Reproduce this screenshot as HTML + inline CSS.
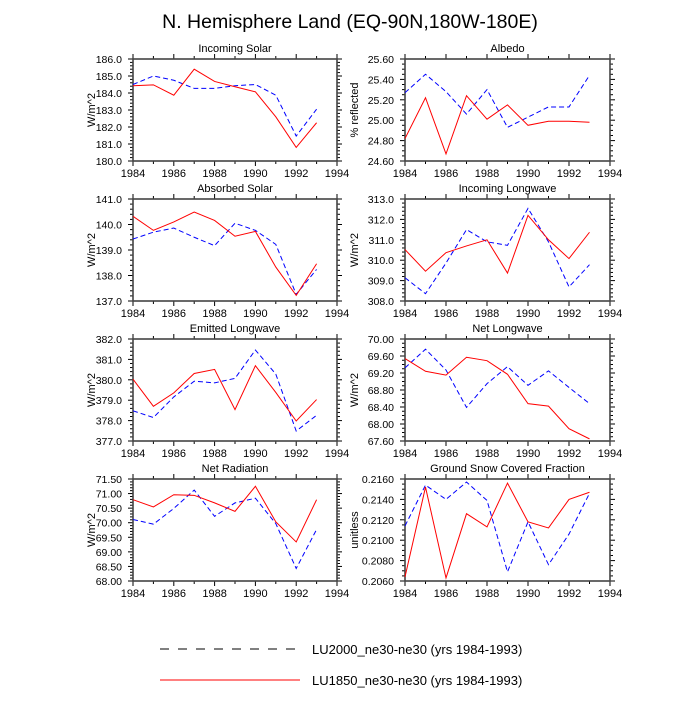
<!DOCTYPE html>
<html><head><meta charset="utf-8"><style>
body{margin:0;background:#fff}
svg{font-family:"Liberation Sans",sans-serif}
</style></head><body>
<svg id="c" width="700" height="700">
<text x="350" y="28" font-size="19.5" text-anchor="middle">N. Hemisphere Land (EQ-90N,180W-180E)</text>
<g>
<line x1="160" y1="649" x2="300" y2="649" stroke="#000" stroke-width="1" stroke-dasharray="9,9"/>
<text x="312" y="654" font-size="13">LU2000_ne30-ne30 (yrs 1984-1993)</text>
<line x1="160" y1="680" x2="300" y2="680" stroke="#f00" stroke-width="1"/>
<text x="312" y="685" font-size="13">LU1850_ne30-ne30 (yrs 1984-1993)</text>
</g>
</svg>
<script>
const years=[1984,1985,1986,1987,1988,1989,1990,1991,1992,1993];
const xTicks=[1984,1986,1988,1990,1992,1994];
const inSolarRed=[184.43,184.48,183.87,185.4,184.68,184.37,184.07,182.6,180.8,182.25];
const inSolarBlue=[184.5,185.0,184.75,184.27,184.27,184.43,184.5,183.87,181.47,183.05];
const albedoRed=[24.82,25.22,24.67,25.24,25.01,25.15,24.95,24.99,24.99,24.98];
const albedoBlue=[25.27,25.45,25.28,25.06,25.30,24.93,25.03,25.13,25.13,25.44];
const absSolarRed=[140.32,139.77,140.1,140.49,140.16,139.54,139.73,138.33,137.22,138.46];
const absSolarBlue=[139.43,139.7,139.86,139.5,139.17,140.05,139.77,139.22,137.26,138.24];
const inLwRed=[310.52,309.46,310.37,310.7,311.0,309.37,312.2,311.0,310.08,311.37];
const inLwBlue=[309.14,308.36,309.86,311.5,310.9,310.73,312.54,310.9,308.69,309.78];
const emLwRed=[380.03,378.70,379.36,380.31,380.51,378.54,380.69,379.38,377.98,379.03];
const emLwBlue=[378.48,378.15,379.16,379.93,379.85,380.07,381.46,380.28,377.49,378.26];
const netLwRed=[69.54,69.24,69.15,69.57,69.49,69.17,68.48,68.42,67.89,67.65];
const netLwBlue=[69.32,69.76,69.27,68.39,68.95,69.35,68.91,69.25,68.86,68.48];
const netRadRed=[70.79,70.54,70.96,70.94,70.68,70.39,71.25,70.03,69.34,70.79];
const netRadBlue=[70.11,69.95,70.49,71.12,70.22,70.68,70.84,69.97,68.43,69.77];
const snowRed=[0.2064,0.2152,0.2063,0.2126,0.2113,0.2156,0.2118,0.2112,0.2140,0.2147];
const snowBlue=[0.2114,0.2154,0.2140,0.2157,0.2139,0.2069,0.2118,0.2076,0.2106,0.2146];
const yTicksInSolar=[180,181,182,183,184,185,186];
const yTicksAlbedo=[24.6,24.8,25.0,25.2,25.4,25.6];
const yTicksAbsSolar=[137,138,139,140,141];
const yTicksInLw=[308,309,310,311,312,313];
const yTicksEmLw=[377,378,379,380,381,382];
const yTicksNetLw=[67.6,68.0,68.4,68.8,69.2,69.6,70.0];
const yTicksNetRad=[68,68.5,69,69.5,70,70.5,71,71.5];
const yTicksSnow=[0.206,0.208,0.210,0.212,0.214,0.216];

const NS="http://www.w3.org/2000/svg";
const svg=document.getElementById('c');
function mk(t,a,p){const e=document.createElementNS(NS,t);for(const k in a)e.setAttribute(k,a[k]);(p||svg).appendChild(e);return e;}
const panels=[
 {id:'incoming-solar',title:'Incoming Solar',yl:'W/m^2',red:inSolarRed,blue:inSolarBlue,ticks:yTicksInSolar,dec:1,minor:5,col:0,row:0},
 {id:'albedo',title:'Albedo',yl:'% reflected',red:albedoRed,blue:albedoBlue,ticks:yTicksAlbedo,dec:2,minor:4,col:1,row:0},
 {id:'absorbed-solar',title:'Absorbed Solar',yl:'W/m^2',red:absSolarRed,blue:absSolarBlue,ticks:yTicksAbsSolar,dec:1,minor:5,col:0,row:1},
 {id:'incoming-longwave',title:'Incoming Longwave',yl:'W/m^2',red:inLwRed,blue:inLwBlue,ticks:yTicksInLw,dec:1,minor:5,col:1,row:1},
 {id:'emitted-longwave',title:'Emitted Longwave',yl:'W/m^2',red:emLwRed,blue:emLwBlue,ticks:yTicksEmLw,dec:1,minor:5,col:0,row:2},
 {id:'net-longwave',title:'Net Longwave',yl:'W/m^2',red:netLwRed,blue:netLwBlue,ticks:yTicksNetLw,dec:2,minor:4,col:1,row:2},
 {id:'net-radiation',title:'Net Radiation',yl:'W/m^2',red:netRadRed,blue:netRadBlue,ticks:yTicksNetRad,dec:2,minor:5,col:0,row:3},
 {id:'snow-fraction',title:'Ground Snow Covered Fraction',yl:'unitless',red:snowRed,blue:snowBlue,ticks:yTicksSnow,dec:4,minor:4,col:1,row:3}
];
const colX=[[133,337],[405,610]];
const titleOff=[38,47];
const rowY=[59,199,339,479];const H=102;
panels.forEach(p=>{
 const x0=colX[p.col][0],x1=colX[p.col][1],y0=rowY[p.row],y1=y0+H;
 const g=mk('g',{});
 
 
 const ymin=p.ticks[0],ymax=p.ticks[p.ticks.length-1];
 const sx=v=>x0+(v-1984)/(1994-1984)*(x1-x0);
 const sy=v=>y1-(v-ymin)/(ymax-ymin)*(y1-y0);
 const t=mk('text',{x:(x0+x1)/2,y:y0-7,'font-size':11,'text-anchor':'middle'},g);t.textContent=p.title;
 
 const off=titleOff[p.col];
 const yl=mk('text',{x:0,y:0,'font-size':11,'text-anchor':'middle',transform:`translate(${x0-off},${(y0+y1)/2}) rotate(-90)`},g);yl.textContent=p.yl;
 
 for(let yv=1984;yv<=1994;yv++){const X=sx(yv);const L=(yv%2==0)?5:3;
  mk('line',{x1:X,y1:y1,x2:X,y2:y1+L,stroke:'#000','stroke-width':1},g);
  mk('line',{x1:X,y1:y0,x2:X,y2:y0-L,stroke:'#000','stroke-width':1},g);}
 xTicks.forEach(v=>{const tx=mk('text',{x:sx(v),y:y1+16,'font-size':11,'text-anchor':'middle'},g);tx.textContent=v;
  });
 for(let i=0;i<p.ticks.length;i++){const Y=sy(p.ticks[i]);
  mk('line',{x1:x0,y1:Y,x2:x0-5,y2:Y,stroke:'#000'},g);mk('line',{x1:x1,y1:Y,x2:x1+5,y2:Y,stroke:'#000'},g);
  const ty=mk('text',{x:x0-11,y:Y+4,'font-size':10.5,'text-anchor':'end'},g);ty.textContent=p.ticks[i].toFixed(p.dec);
  
  if(i<p.ticks.length-1){const step=(p.ticks[i+1]-p.ticks[i])/p.minor;for(let k=1;k<p.minor;k++){const Ym=sy(p.ticks[i]+k*step);
   mk('line',{x1:x0,y1:Ym,x2:x0-3,y2:Ym,stroke:'#000'},g);mk('line',{x1:x1,y1:Ym,x2:x1+3,y2:Ym,stroke:'#000'},g);}}}
 const fr=mk('rect',{x:x0,y:y0,width:x1-x0,height:H,fill:'none',stroke:'#444','stroke-width':1.6},g);
 
 const b=mk('polyline',{points:p.blue.map((v,i)=>sx(years[i])+','+sy(v)).join(' '),fill:'none',stroke:'#00f','stroke-width':1,'stroke-dasharray':'5,3'},g);
 
 const r=mk('polyline',{points:p.red.map((v,i)=>sx(years[i])+','+sy(v)).join(' '),fill:'none',stroke:'#f00','stroke-width':1},g);
 
});
</script>
</body></html>
